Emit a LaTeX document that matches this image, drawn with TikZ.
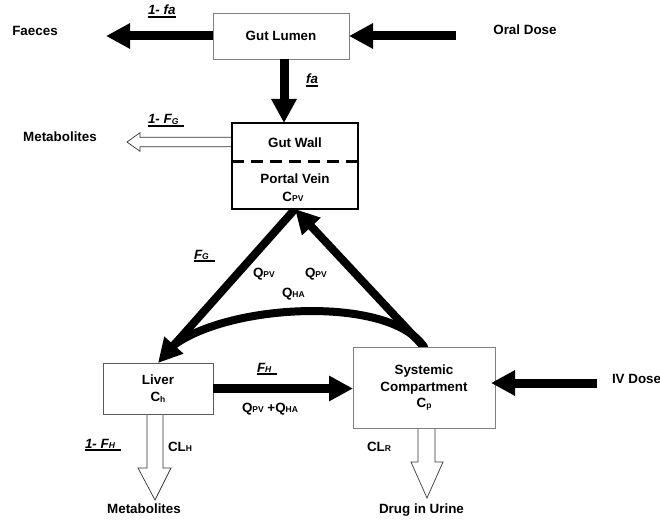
\documentclass[tikz,border=0pt]{standalone}
\usepackage{fontspec}
\setmainfont{Liberation Sans}
\usetikzlibrary{arrows.meta,backgrounds}
\newcommand{\sbs}[1]{\raisebox{-0.8pt}{\fontsize{8.5}{8.5}\selectfont #1}}
\newcommand{\ulin}[1]{\setbox0\hbox{#1}\rlap{\rule[-2.6pt]{\wd0}{1.2pt}}\box0}
\begin{document}
\begin{tikzpicture}[x=1pt,y=-1pt,
  every node/.style={font=\fontsize{13.4}{16.5}\selectfont\bfseries, inner sep=0pt, outer sep=0pt},
  box/.style={draw=black!50, line width=0.8pt, fill=white, align=center},
  big/.style={line width=9pt, -{Triangle[width=24pt,length=24pt]}},
  tri/.style={line width=8pt, -{Triangle[width=24pt,length=24pt]}},
  hollow/.style={draw=black!80, line width=0.7pt, fill=white, line join=miter},
  txt/.style={anchor=base},
  txtw/.style={anchor=base west}]
\useasboundingbox (0,0) rectangle (660,521);

% boxes
\node[box, minimum width=136pt, minimum height=46pt] (lumen) at (281,36) {Gut Lumen};
\node[box, draw=black, line width=1.4pt, minimum width=126pt, minimum height=86pt] (gw) at (295,166) {};
\coordinate (dl) at (0,162);
\draw[line width=3pt, dash pattern=on 12pt off 7pt] (gw.west |- dl) -- (gw.east |- dl);
\node[txt] (gwt) at (295,148) {Gut Wall};
\node[txt] (pvt) at (295,184) {Portal Vein};
\node[txt] (cpv) at (293,201) {C\sbs{PV}};
\node[box, draw=black!65, minimum width=110pt, minimum height=51pt] (liver) at (158,388.5) {Liver\\C\sbs{h}};
\node[box, minimum width=142pt, minimum height=81pt] (sys) at (424,387.5) {Systemic\\Compartment\\C\sbs{p}};

% texts
\node[txt] (faeces) at (35,36) {Faeces};
\node[txtw] (l1fa) at (148,15) {\ulin{\itshape 1- fa}};
\node[txt] (oral) at (525,35) {Oral Dose};
\node[txt] (lfa) at (312,84) {\ulin{\itshape fa}};
\node[txt] (met1) at (60,142) {Metabolites};
\node[txtw] (l1fg) at (148,124) {\ulin{\itshape 1- F\sbs{G}\hspace{6pt}}};
\node[txtw] (lfg) at (194,259) {\ulin{\itshape F\sbs{G}\hspace{6pt}}};
\node[txtw] (qpv1) at (253,277) {Q\sbs{PV}};
\node[txtw] (qpv2) at (305,277) {Q\sbs{PV}};
\node[txtw] (qha) at (282,297) {Q\sbs{HA}};
\node[txtw] (lfh) at (257,372) {\ulin{\itshape F\sbs{H}\hspace{6pt}}};
\node[txtw] (qsum) at (242,412) {Q\sbs{PV} +Q\sbs{HA}};
\node[txtw] (l1fh) at (85,448) {\ulin{\itshape 1- F\sbs{H}\hspace{6pt}}};
\node[txtw] (clh) at (168,451) {CL\sbs{H}};
\node[txt] (met2) at (144,513) {Metabolites};
\node[txtw] (clr) at (367,451) {CL\sbs{R}};
\node[txt] (urine) at (421.5,513) {Drug in Urine};
\node[txtw] (iv) at (612,383) {IV Dose};

% big black arrows
\coordinate (ftip) at (106,36);
\draw[big] (lumen.west) -- (ftip);
\coordinate (ostart) at (456,36);
\draw[big] (ostart) -- (lumen.east);
\coordinate (fax) at (284,0);
\draw[big] (lumen.south -| fax) -- (gw.north -| fax);
\draw[big] (liver.east) -- (sys.west |- liver.east);
\coordinate (ivs) at (597,383);
\coordinate (ivt) at (491,383);
\draw[big] (ivs) -- (ivt);

\begin{pgfonlayer}{background}
\draw[tri] (gw.south) -- (liver.north);
\draw[tri, line cap=round] (sys.north) -- (gw.south);
\coordinate (cj) at (170,348);
\draw[line width=8pt, line cap=round] (sys.north) .. controls (390,295) and (225,303) .. (cj);
% hollow arrows
\draw[hollow] (232,137.3) -- (140,137.3) -- (140,132.7) -- (127,142) -- (140,151.3) -- (140,146.7) -- (232,146.7);
\draw[hollow] (147,414) -- (147,468) -- (138,468) -- (155,500) -- (171,468) -- (163,468) -- (163,414);
\draw[hollow] (418,428) -- (418,462) -- (411,462) -- (427,498) -- (443,462) -- (435,462) -- (435,428);
\end{pgfonlayer}
\end{tikzpicture}
\end{document}
